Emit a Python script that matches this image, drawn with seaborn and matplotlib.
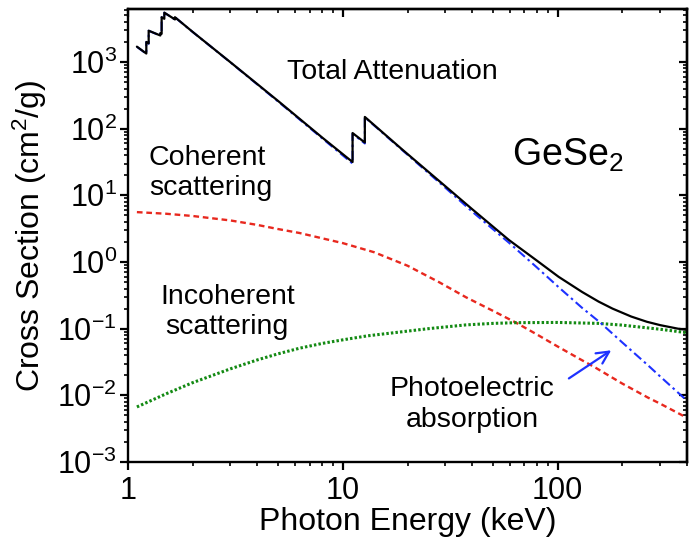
import matplotlib
matplotlib.use("Agg")
import matplotlib.pyplot as plt
import seaborn as sns
import numpy as np
from matplotlib.ticker import LogLocator, NullFormatter, FixedLocator

# ---------------- data ----------------
total_E = [1.10, 1.217, 1.217, 1.248, 1.248, 1.414, 1.414, 1.434, 1.434, 1.476, 1.476,
           1.654, 1.654, 2.0, 3.0, 5.0, 8.0, 11.10, 11.10, 12.66, 12.66, 19.0, 30.0,
           40.0, 59.3, 80.0, 101.0, 130.0, 155.0, 180.0, 220.0, 260.0, 300.0, 363.0, 400.0]
total_mu = [1700, 1340, 2000, 1900, 2950, 2500, 2700, 2650, 4700, 4450, 5500,
            4350, 4700, 2830, 990, 260, 74, 31.6, 86, 62, 150, 48, 13.7,
            6.2, 2.14, 1.05, 0.60, 0.355, 0.255, 0.20, 0.152, 0.127, 0.113, 0.100, 0.096]

photo_E = [1.10, 1.217, 1.217, 1.248, 1.248, 1.414, 1.414, 1.434, 1.434, 1.476, 1.476,
           1.654, 1.654, 2.0, 3.0, 5.0, 8.0, 11.10, 11.10, 12.66, 12.66, 19.0, 30.0,
           40.0, 59.3, 80.0, 101.0, 130.0, 158.0, 200.0, 264.0, 300.0, 400.0]
photo_mu = [1690, 1330, 1990, 1890, 2940, 2490, 2690, 2640, 4690, 4440, 5490,
            4340, 4690, 2820, 985, 255, 72, 30.0, 84, 60, 148, 47, 13.0,
            5.7, 1.95, 0.83, 0.42, 0.205, 0.123, 0.062, 0.028, 0.0192, 0.0083]

coh_E = [1.1, 1.5, 2.0, 3.0, 4.0, 5.0, 6.3, 8.0, 10.0, 14.0, 20.0, 28.0, 37.5, 50.0,
         64.0, 80.0, 100.0, 129.0, 150.0, 200.0, 264.0, 300.0, 400.0]
coh_mu = [5.6, 5.3, 4.9, 4.2, 3.6, 3.12, 2.72, 2.27, 1.92, 1.40, 0.88, 0.50, 0.295, 0.185,
          0.123, 0.082, 0.054, 0.034, 0.026, 0.015, 0.0092, 0.0075, 0.0046]

incoh_E = [1.1, 1.5, 2.0, 3.0, 4.0, 5.0, 6.3, 8.0, 10.0, 13.0, 18.4, 25.0, 37.5, 50.0,
           64.0, 100.0, 155.0, 200.0, 300.0, 400.0]
incoh_mu = [0.0067, 0.0105, 0.0155, 0.025, 0.034, 0.042, 0.051, 0.060, 0.068, 0.078,
            0.089, 0.100, 0.114, 0.120, 0.123, 0.124, 0.120, 0.113, 0.098, 0.087]

y_tick_vals = [1e-3, 1e-2, 1e-1, 1e0, 1e1, 1e2, 1e3]
y_tick_labels = ["10$^{-3}$", "10$^{-2}$", "10$^{-1}$", "10$^{0}$", "10$^{1}$", "10$^{2}$", "10$^{3}$"]
x_tick_vals = [1, 10, 100]
x_tick_labels = ["1", "10", "100"]

# ---------------- style ----------------
sns.set_theme(style="ticks")
plt.rcParams["font.family"] = ["Liberation Sans", "DejaVu Sans"]
plt.rcParams["mathtext.fontset"] = "custom"
plt.rcParams["mathtext.rm"] = "Liberation Sans"
plt.rcParams["mathtext.it"] = "Liberation Sans:italic"
plt.rcParams["mathtext.bf"] = "Liberation Sans:bold"
plt.rcParams["text.color"] = "black"
plt.rcParams["axes.labelcolor"] = "black"
plt.rcParams["xtick.color"] = "black"
plt.rcParams["ytick.color"] = "black"

fig = plt.figure(figsize=(6.89, 5.47), dpi=100)
ax = fig.add_axes([128/689, (547-462)/547, (687-128)/689, (462-9)/547])

RED = "#e8281e"
GREEN = "#138a13"
BLUE = "#1e32ff"

sns.lineplot(x=coh_E, y=coh_mu, ax=ax, estimator=None, sort=False, color=RED,
             linewidth=1.7, linestyle=(0, (2.4, 1.6)), zorder=2)
sns.lineplot(x=incoh_E, y=incoh_mu, ax=ax, estimator=None, sort=False, color=GREEN,
             linewidth=2.2, linestyle=(0, (0.8, 0.7)), zorder=2)
sns.lineplot(x=photo_E, y=photo_mu, ax=ax, estimator=None, sort=False, color=BLUE,
             linewidth=1.5, linestyle=(0, (4.5, 1.8, 1.2, 1.8)), zorder=3)
sns.lineplot(x=total_E, y=total_mu, ax=ax, estimator=None, sort=False, color="black",
             linewidth=1.6, zorder=4)

ax.set_xscale("log")
ax.set_yscale("log")
ax.set_xlim(1, 400)
ax.set_ylim(1e-3, 6240)

ax.xaxis.set_major_locator(FixedLocator(x_tick_vals))
ax.set_xticklabels(x_tick_labels)
ax.yaxis.set_major_locator(FixedLocator(y_tick_vals))
ax.set_yticklabels(y_tick_labels)
ax.xaxis.set_minor_locator(LogLocator(base=10, subs=np.arange(2, 10), numticks=100))
ax.yaxis.set_minor_locator(LogLocator(base=10, subs=np.arange(2, 10), numticks=100))
ax.xaxis.set_minor_formatter(NullFormatter())
ax.yaxis.set_minor_formatter(NullFormatter())

for sp in ax.spines.values():
    sp.set_linewidth(1.7)
    sp.set_color("black")
    sp.set_visible(True)

ax.tick_params(which="major", direction="out", length=6, width=1.6, labelsize=22,
               colors="black", pad=4)
ax.tick_params(which="minor", direction="out", length=3.2, width=1.2, colors="black")
ax.tick_params(axis="y", which="major", pad=2)

# inward ticks on top and right
sec_x = ax.secondary_xaxis("top")
sec_x.xaxis.set_major_locator(FixedLocator(x_tick_vals))
sec_x.xaxis.set_minor_locator(LogLocator(base=10, subs=np.arange(2, 10), numticks=100))
sec_x.xaxis.set_major_formatter(NullFormatter())
sec_x.xaxis.set_minor_formatter(NullFormatter())
sec_x.tick_params(which="major", direction="in", length=6, width=1.6, colors="black")
sec_x.tick_params(which="minor", direction="in", length=3.2, width=1.2, colors="black")
sec_x.spines["top"].set_linewidth(1.7)
sec_x.spines["top"].set_color("black")

sec_y = ax.secondary_yaxis("right")
sec_y.yaxis.set_major_locator(FixedLocator(y_tick_vals))
sec_y.yaxis.set_minor_locator(LogLocator(base=10, subs=np.arange(2, 10), numticks=100))
sec_y.yaxis.set_major_formatter(NullFormatter())
sec_y.yaxis.set_minor_formatter(NullFormatter())
sec_y.tick_params(which="major", direction="in", length=6, width=1.6, colors="black")
sec_y.tick_params(which="minor", direction="in", length=3.2, width=1.2, colors="black")
sec_y.spines["right"].set_linewidth(1.7)
sec_y.spines["right"].set_color("black")

ax.set_xlabel("Photon Energy (keV)", fontsize=23, labelpad=1, color="black")
ax.set_ylabel("Cross Section (cm$^2$/g)", fontsize=23, labelpad=6, color="black")

# annotations
fs = 20.5
ax.text(5.5, 700, "Total Attenuation", fontsize=fs, ha="left", va="center", color="black")
ax.text(1.25, 22, "Coherent\nscattering", fontsize=fs, ha="left", va="center",
        linespacing=1.2, color="black")
ax.text(2.9, 0.18, "Incoherent\nscattering", fontsize=fs, ha="center", va="center",
        linespacing=1.2, multialignment="center", color="black")
ax.text(61, 40, "GeSe$_2$", fontsize=27, ha="left", va="center", color="black")
ax.text(40, 0.0072, "Photoelectric\nabsorption", fontsize=fs, ha="center", va="center",
        linespacing=1.25, multialignment="center", color="black")
ax.annotate("", xy=(182, 0.05), xytext=(110, 0.017),
            arrowprops=dict(arrowstyle="->", color=BLUE, lw=1.6, mutation_scale=22))

fig.savefig("out.png", dpi=100)
